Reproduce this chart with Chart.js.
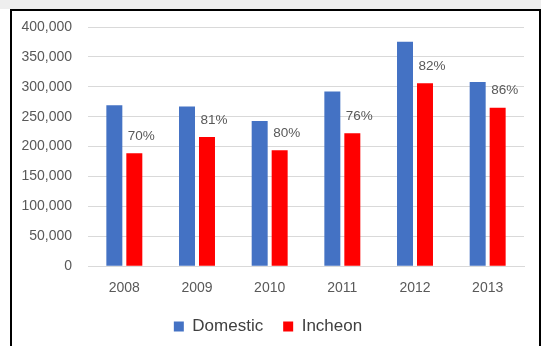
<!DOCTYPE html>
<html>
<head>
<meta charset="utf-8">
<script src="https://cdn.jsdelivr.net/npm/chart.js@4.4.1/dist/chart.umd.min.js"></script>
<style>
  html, body { margin: 0; padding: 0; background: #ffffff; }
  body { width: 541px; height: 346px; position: relative; overflow: hidden; }
  #topstrip { position: absolute; left: 0; top: 0; width: 541px; height: 9px; background: #eeeeee; }
  #frame { position: absolute; left: 10px; top: 9px; width: 527px; height: 345px;
           border-left: 2px solid #000; border-top: 2px solid #000; border-right: 2px solid #000; background: #fff; }
  #wrap { position: absolute; left: 12px; top: 11px; width: 525px; height: 335px; }
</style>
</head>
<body>
<div id="topstrip"></div>
<div id="frame"></div>
<div id="wrap"><canvas id="c" width="525" height="335"></canvas></div>
<script>
const years = ["2008", "2009", "2010", "2011", "2012", "2013"];
const domestic = [269000, 267000, 243000, 292000, 375500, 308000];
const incheon = [189000, 216000, 194000, 222500, 306000, 265000];
const shareLabels = ["70%", "81%", "80%", "76%", "82%", "86%"];
const yTicks = [0, 50000, 100000, 150000, 200000, 250000, 300000, 350000, 400000];

const FONT = "'Liberation Sans', Arial, sans-serif";

const shareLabelPlugin = {
  id: 'shareLabels',
  afterDatasetsDraw(chart) {
    const meta = chart.getDatasetMeta(1);
    const ctx = chart.ctx;
    ctx.save();
    ctx.font = "13.5px " + FONT;
    ctx.fillStyle = "#595959";
    ctx.textAlign = "center";
    ctx.textBaseline = "middle";
    meta.data.forEach((bar, i) => {
      ctx.fillText(shareLabels[i], bar.x + 7, bar.y - 17);
    });
    ctx.restore();
  }
};

new Chart(document.getElementById('c'), {
  type: 'bar',
  data: {
    labels: years,
    datasets: [
      { label: 'Domestic', data: domestic, backgroundColor: '#4472C4', borderWidth: 0 },
      { label: 'Incheon', data: incheon, backgroundColor: '#FF0000', borderWidth: 0 }
    ]
  },
  options: {
    responsive: false,
    animation: false,
    devicePixelRatio: 1,
    layout: { padding: { left: 0, right: 13, top: 16, bottom: 1 } },
    datasets: { bar: { categoryPercentage: 0.55, barPercentage: 0.8 } },
    scales: {
      x: {
        grid: { display: false, drawTicks: false },
        border: { display: true, color: '#d9d9d9', width: 1 },
        ticks: { color: '#595959', font: { family: FONT, size: 14 }, padding: 14 },
        afterFit(axis) { axis.height -= 13; }
      },
      y: {
        min: 0, max: 400000,
        afterFit(axis) { axis.width = 76; },
        afterBuildTicks(axis) { axis.ticks = yTicks.map(v => ({ value: v })); },
        grid: { color: '#d9d9d9', drawTicks: true, tickLength: 16, tickColor: 'rgba(0,0,0,0)' },
        border: { display: false },
        ticks: {
          color: '#595959', padding: 0,
          font: { family: FONT, size: 14 },
          callback: v => v.toLocaleString('en-US')
        }
      }
    },
    plugins: {
      legend: {
        position: 'bottom',
        labels: {
          boxWidth: 10, boxHeight: 10, padding: 20,
          color: '#404040',
          font: { family: FONT, size: 17 }
        }
      },
      tooltip: { enabled: false }
    }
  },
  plugins: [shareLabelPlugin]
});
</script>
</body>
</html>
